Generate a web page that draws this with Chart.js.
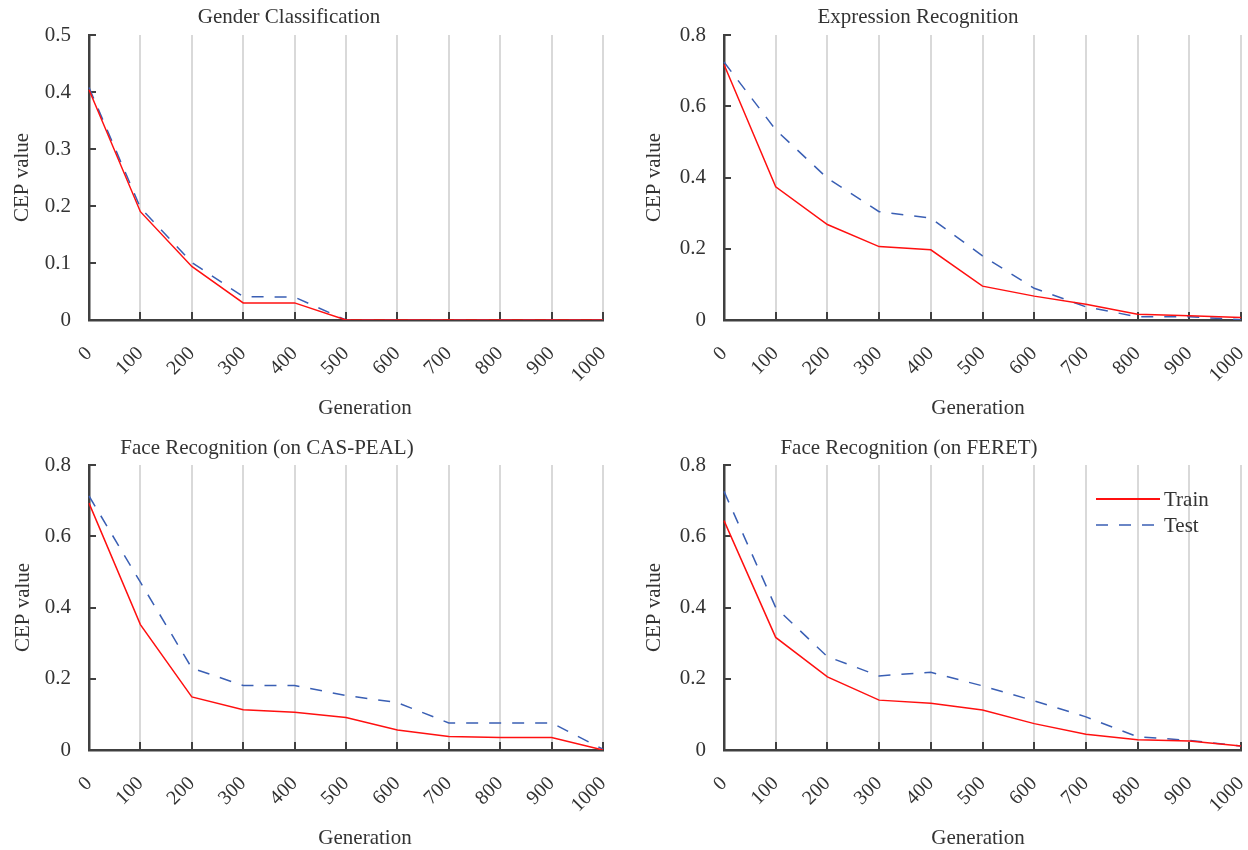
<!DOCTYPE html>
<html><head><meta charset="utf-8">
<script src="https://cdn.jsdelivr.net/npm/chart.js@4/dist/chart.umd.min.js"></script>
<style>
html,body{margin:0;padding:0;background:#fff;}
#wrap{position:relative;width:1248px;height:850px;overflow:hidden;background:#fff;}
canvas{position:absolute;}
</style></head><body>
<div id="wrap">
<canvas id="c1" width="624" height="425" style="left:0;top:0"></canvas>
<canvas id="c2" width="624" height="425" style="left:624px;top:0"></canvas>
<canvas id="c3" width="624" height="425" style="left:0;top:425px"></canvas>
<canvas id="c4" width="624" height="425" style="left:624px;top:425px"></canvas>
</div>
<script>
// ---- data ----
const generations = [0, 100, 200, 300, 400, 500, 600, 700, 800, 900, 1000];

const genderTrain = [0.404, 0.190, 0.094, 0.030, 0.030, 0.000, 0.000, 0.000, 0.000, 0.000, 0.000];
const genderTest  = [0.408, 0.197, 0.101, 0.041, 0.040, 0.000, 0.000, 0.000, 0.000, 0.000, 0.000];

const exprTrain = [0.717, 0.374, 0.268, 0.206, 0.197, 0.095, 0.067, 0.044, 0.016, 0.012, 0.007];
const exprTest  = [0.724, 0.534, 0.398, 0.304, 0.286, 0.180, 0.089, 0.037, 0.009, 0.009, 0.001];

const casTrain = [0.693, 0.352, 0.149, 0.113, 0.106, 0.091, 0.056, 0.038, 0.035, 0.035, 0.000];
const casTest  = [0.713, 0.471, 0.230, 0.181, 0.181, 0.153, 0.133, 0.076, 0.076, 0.076, 0.002];

const feretTrain = [0.644, 0.316, 0.205, 0.140, 0.131, 0.112, 0.074, 0.044, 0.029, 0.025, 0.011];
const feretTest  = [0.726, 0.400, 0.262, 0.208, 0.218, 0.180, 0.138, 0.093, 0.037, 0.027, 0.011];

const yTicksGender = [0, 0.1, 0.2, 0.3, 0.4, 0.5];
const yTicksOther  = [0, 0.2, 0.4, 0.6, 0.8];

const seriesNames = ['Train', 'Test'];
const panelTitles = ['Gender Classification', 'Expression Recognition',
                     'Face Recognition (on CAS-PEAL)', 'Face Recognition (on FERET)'];
const xAxisTitle = 'Generation';
const yAxisTitle = 'CEP value';

// ---- style ----
const FONT = "'Liberation Serif', 'Times New Roman', serif";
const TRAIN_COLOR = '#ff1010';
const TEST_COLOR = '#3a5fb4';
const AXIS_COLOR = '#404040';
const GRID_COLOR = '#d9d9d9';
const TEXT_COLOR = '#333333';
const TEST_DASH = [12, 11];

const W = 624, H = 425;

const decorPlugin = {
  id: 'decor',
  beforeDatasetsDraw(chart) {
    const ctx = chart.ctx, xs = chart.scales.x, ys = chart.scales.y, a = chart.chartArea;
    ctx.save();
    ctx.strokeStyle = AXIS_COLOR;
    ctx.lineWidth = 2;
    ctx.beginPath();
    xs.ticks.forEach((t, i) => {
      if (i === 0) return;
      const x = Math.round(xs.getPixelForTick(i));
      ctx.moveTo(x, a.bottom); ctx.lineTo(x, a.bottom - 8);
    });
    ys.ticks.forEach((t) => {
      if (t.value === 0) return;
      const y = Math.round(ys.getPixelForValue(t.value));
      ctx.moveTo(a.left, y); ctx.lineTo(a.left + 7, y);
    });
    ctx.stroke();
    ctx.restore();
  },
  afterDraw(chart) {
    const o = chart.options.plugins.decor;
    const ctx = chart.ctx;
    ctx.save();
    ctx.fillStyle = TEXT_COLOR;
    ctx.font = "21px " + FONT;
    ctx.textAlign = 'center';
    ctx.textBaseline = 'middle';
    ctx.fillText(o.title, o.titleX, o.titleY);
    ctx.fillText(o.xTitle, o.xTitleX, o.xTitleY);
    if (o.legend) {
      const L = o.legend;
      chart.data.datasets.forEach((ds, i) => {
        const y = L.y + i * L.gap;
        ctx.strokeStyle = ds.borderColor;
        ctx.lineWidth = i === 0 ? 2.2 : 1.6;
        ctx.setLineDash(ds.borderDash || []);
        ctx.beginPath();
        ctx.moveTo(L.x, y); ctx.lineTo(L.x + L.len, y);
        ctx.stroke();
        ctx.setLineDash([]);
        ctx.fillStyle = TEXT_COLOR;
        ctx.font = "21px " + FONT;
        ctx.textAlign = 'left';
        ctx.fillText(ds.label, L.x + L.len + 4, y + 1);
      });
    }
    ctx.restore();
  }
};

function makePanel(id, cfg) {
  const ctx = document.getElementById(id);
  return new Chart(ctx, {
    type: 'line',
    data: {
      labels: generations,
      datasets: [
        { label: seriesNames[0], data: cfg.train, borderColor: TRAIN_COLOR, borderWidth: 1.5,
          pointRadius: 0, tension: 0, fill: false },
        { label: seriesNames[1], data: cfg.test, borderColor: TEST_COLOR, borderWidth: 1.5,
          borderDash: TEST_DASH, pointRadius: 0, tension: 0, fill: false }
      ]
    },
    options: {
      responsive: false,
      animation: false,
      devicePixelRatio: 1,
      layout: { padding: { left: 0, top: cfg.plotTop, right: W - cfg.plotRight, bottom: 0 } },
      plugins: {
        legend: { display: false },
        tooltip: { enabled: false },
        title: { display: false },
        decor: { title: cfg.title, titleX: cfg.titleX, titleY: cfg.titleY,
                 xTitle: xAxisTitle, xTitleX: cfg.xTitleX, xTitleY: cfg.xTitleY,
                 legend: cfg.legend || null }
      },
      scales: {
        x: {
          type: 'category',
          offset: false,
          grid: { display: true, drawOnChartArea: true, drawTicks: false, color: GRID_COLOR, lineWidth: 2 },
          border: { display: true, color: AXIS_COLOR, width: 2.5 },
          ticks: { autoSkip: false, maxRotation: 45, minRotation: 45, padding: 22,
                   color: TEXT_COLOR, font: { family: FONT, size: 20 } },
          title: { display: false },
          afterFit: s => { s.height = H - cfg.plotBottom; s.paddingLeft = 0; s.paddingRight = 0; }
        },
        y: {
          type: 'linear',
          min: cfg.yTicks[0],
          max: cfg.yTicks[cfg.yTicks.length - 1],
          afterBuildTicks: s => { s.ticks = cfg.yTicks.map(v => ({ value: v })); },
          grid: { display: true, drawOnChartArea: false, drawTicks: false },
          border: { display: true, color: AXIS_COLOR, width: 2.5 },
          ticks: { padding: 18, color: TEXT_COLOR, font: { family: FONT, size: 21 },
                   callback: v => v === 0 ? '0' : Number(v).toFixed(1) },
          title: { display: true, text: yAxisTitle, color: TEXT_COLOR,
                   font: { family: FONT, size: 21 }, padding: { top: cfg.yTitlePad, bottom: 0 } },
          afterFit: s => { s.width = cfg.plotLeft; s.paddingTop = 0; s.paddingBottom = 0; }
        }
      }
    },
    plugins: [decorPlugin]
  });
}

makePanel('c1', { train: genderTrain, test: genderTest, yTicks: yTicksGender, title: panelTitles[0],
  titleX: 289, titleY: 17, xTitleX: 365, xTitleY: 408,
  plotLeft: 89, plotRight: 603, plotTop: 35, plotBottom: 320, yTitlePad: 10 });
makePanel('c2', { train: exprTrain, test: exprTest, yTicks: yTicksOther, title: panelTitles[1],
  titleX: 294, titleY: 17, xTitleX: 354, xTitleY: 408,
  plotLeft: 100, plotRight: 617, plotTop: 35, plotBottom: 320, yTitlePad: 18 });
makePanel('c3', { train: casTrain, test: casTest, yTicks: yTicksOther, title: panelTitles[2],
  titleX: 267, titleY: 23, xTitleX: 365, xTitleY: 413,
  plotLeft: 89, plotRight: 603, plotTop: 40, plotBottom: 325, yTitlePad: 11 });
makePanel('c4', { train: feretTrain, test: feretTest, yTicks: yTicksOther, title: panelTitles[3],
  titleX: 285, titleY: 23, xTitleX: 354, xTitleY: 413,
  plotLeft: 100, plotRight: 617, plotTop: 40, plotBottom: 325, yTitlePad: 18,
  legend: { x: 472, y: 74, gap: 26, len: 64 } });
</script>
</body></html>
